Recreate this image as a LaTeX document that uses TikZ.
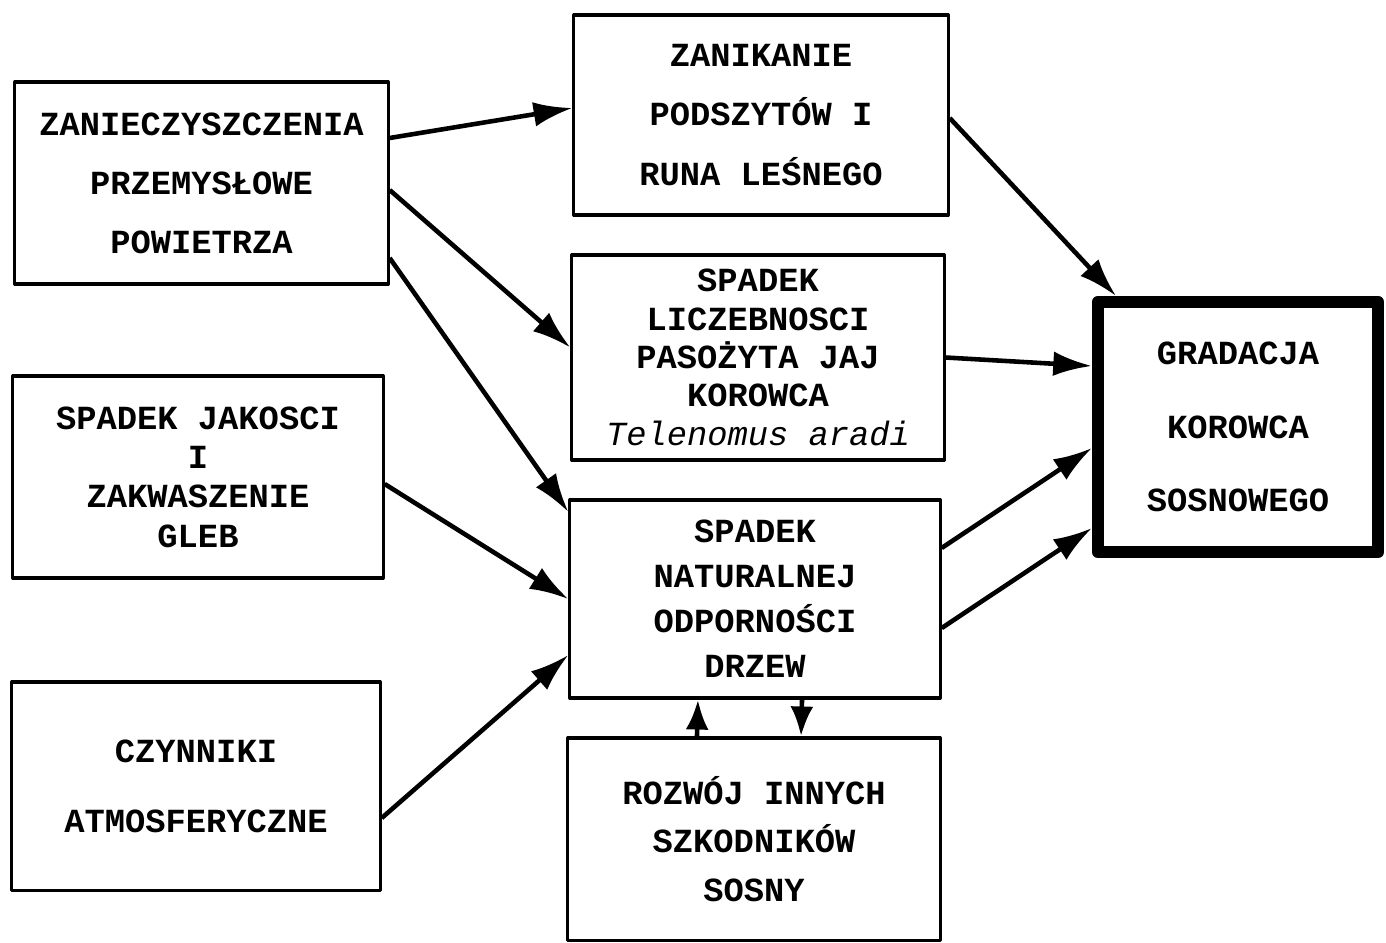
\documentclass[tikz,border=0pt]{standalone}
\usepackage{fontspec}
\setmonofont{Liberation Mono}
\usetikzlibrary{arrows.meta}
\tikzset{
  blok/.style={draw, line width=.9pt, align=center, inner sep=0pt, minimum width=#1},
  lsp/.style={font=\fontsize{9.6pt}{#1pt}\selectfont\ttfamily\bfseries},
  strz/.style={-{Latex[length=11pt,width=7pt]}, line width=1.3pt},
  strzk/.style={-{Latex[length=8.5pt,width=6.5pt]}, line width=1.3pt}
}
\begin{document}
\begin{tikzpicture}[x=0.01cm, y=-0.01cm, line join=round]
	\useasboundingbox (0,0) rectangle (1386,942);
	% przyczyny
	\node[blok=3.73cm, minimum height=2.02cm, lsp=16.8] (zan) at (201.5,183) {ZANIECZYSZCZENIA\\PRZEMYSŁOWE\\POWIETRZA};
	\node[blok=3.70cm, minimum height=2.02cm, lsp=11.2] (gleb) at (198,477) {SPADEK JAKOSCI\\I\\ZAKWASZENIE\\GLEB};
	\node[blok=3.68cm, minimum height=2.08cm, lsp=19.9] (atm) at (196,786) {CZYNNIKI\\ATMOSFERYCZNE};
	% skutki
	\node[blok=3.74cm, minimum height=2.00cm, lsp=17.0] (runo) at (761,115) {ZANIKANIE\\PODSZYTÓW I\\RUNA LEŚNEGO};
	\node[blok=3.72cm, minimum height=2.05cm, lsp=10.9] (paso) at (758,357.5) {SPADEK\\LICZEBNOSCI\\PASOŻYTA JAJ\\KOROWCA\\{\mdseries\itshape Telenomus aradi}};
	\node[blok=3.70cm, minimum height=1.98cm, lsp=12.8] (odp) at (755,599) {SPADEK\\NATURALNEJ\\ODPORNOŚCI\\DRZEW};
	\node[blok=3.72cm, minimum height=2.02cm, lsp=13.7] (szk) at (754,839) {ROZWÓJ INNYCH\\SZKODNIKÓW\\SOSNY};
	\node[draw, line width=3.4pt, align=center, inner sep=0pt, minimum width=2.80cm, minimum height=2.50cm, lsp=20.8] (grad) at (1238,427) {GRADACJA\\KOROWCA\\SOSNOWEGO};
	% strzalki
	\draw[strz] ([yshift=4.5mm]zan.east) -- ([yshift=.7mm]runo.west);
	\draw[strz] ([yshift=-.7mm]zan.east) -- ([yshift=1mm]paso.west);
	\draw[strz] ([yshift=-7.5mm]zan.east) -- ([yshift=8.7mm]odp.west);
	\draw[strz] ([yshift=-.7mm]gleb.east) -- (odp.west);
	\draw[strz] ([yshift=-3.2mm]atm.east) -- ([yshift=-5.6mm]odp.west);
	\draw[strz] ([yshift=-.3mm]runo.east) -- ([xshift=2.4mm]grad.north west);
	\draw[strz] (paso.east) -- ([yshift=6.1mm]grad.west);
	\draw[strz] ([yshift=5.1mm]odp.east) -- ([yshift=-2.1mm]grad.west);
	\draw[strz] ([yshift=-2.9mm]odp.east) -- ([yshift=-10.1mm]grad.west);
	\draw[strzk] ([xshift=-5.7mm]szk.north) -- ([xshift=-5.7mm]odp.south);
	\draw[strzk] ([xshift=4.7mm]odp.south) -- ([xshift=4.7mm]szk.north);
\end{tikzpicture}
\end{document}
